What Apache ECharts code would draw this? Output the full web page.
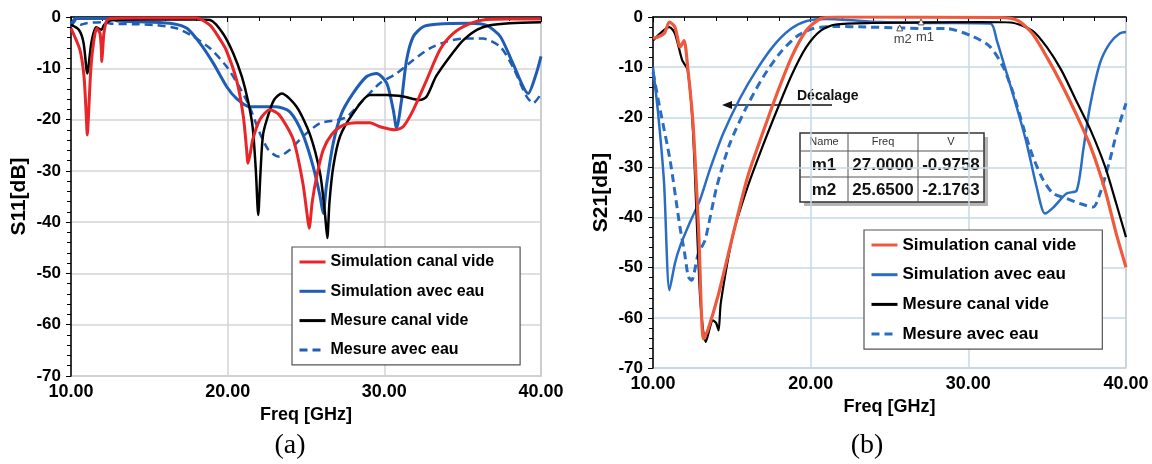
<!DOCTYPE html>
<html>
<head>
<meta charset="utf-8">
<script src="https://cdn.jsdelivr.net/npm/echarts@6/dist/echarts.min.js"></script>
<style>
html, body { margin: 0; padding: 0; background: #fff; }
#chart { width: 1152px; height: 464px; }
</style>
</head>
<body>
<div id="chart"></div>
<script>
// noms des courbes (légende)
var names = ['Simulation canal vide', 'Simulation avec eau', 'Mesure canal vide', 'Mesure avec eau'];

var freqRange = [10, 40];
var dbRange = [-70, 0];

// (a) S11 [freq GHz, dB]
var s11SimVide = [[10,-2.2],[10.57,-6.4],[10.83,-11.6],[10.97,-19],[11.04,-23],[11.12,-19],[11.26,-10.4],[11.43,-5.2],[11.64,-2.2],[11.85,-3.2],[11.93,-6],[11.97,-8.7],[12.03,-6],[12.1,-3.2],[12.28,-0.7],[12.6,-0.3],[14,-0.2],[18.0,-0.2],[18.87,-1.6],[19.5,-4.3],[19.9,-6.4],[20.57,-12.3],[21.0,-19.4],[21.2,-25.5],[21.3,-28.5],[21.45,-26.5],[21.6,-23.9],[22.06,-20],[22.7,-18.1],[23.3,-19.1],[24.2,-24],[24.8,-32.4],[25.05,-38],[25.2,-41.2],[25.4,-36],[25.68,-31.1],[26.1,-25.9],[26.64,-22.9],[27.38,-21.1],[28.23,-20.6],[29.08,-20.6],[29.72,-21.4],[30.68,-22.0],[31.2,-21.4],[31.85,-18.1],[32.7,-12.3],[33.55,-6.4],[34.4,-3.2],[35.46,-1.3],[36.5,-0.5],[38,-0.4],[40,-0.4]];
var s11SimEau = [[10,-1.5],[10.3,-0.3],[12.5,-0.3],[13,-0.8],[15,-1.0],[16.5,-1.3],[17.4,-2.2],[18.23,-5.1],[19.08,-9.0],[19.94,-13.6],[20.57,-15.9],[21.4,-17.5],[23.1,-17.5],[23.97,-18.5],[24.8,-22.9],[25.46,-29.2],[25.9,-35],[26.1,-38.3],[26.3,-33],[26.74,-24.6],[27.27,-18.8],[28.0,-14.9],[28.87,-11.6],[29.5,-11.0],[30.15,-12.9],[30.57,-18.1],[30.78,-21.7],[31.1,-16.2],[31.42,-8.4],[31.85,-3.8],[32.48,-1.9],[33.3,-1.4],[35.46,-1.2],[36.5,-1.6],[37.4,-3.8],[38.2,-9.0],[39.18,-14.9],[39.7,-11],[40,-7.7]];
var s11MesVide = [[10,-1.5],[10.5,-2.5],[10.8,-5],[11.04,-11],[11.3,-5],[11.6,-2.0],[11.95,-2.5],[12.1,-1.6],[12.5,-0.7],[14,-0.5],[18.0,-0.5],[18.87,-0.6],[19.7,-3.2],[20.36,-7.1],[20.9,-11.6],[21.3,-16.4],[21.6,-21.6],[21.8,-30],[21.95,-38.6],[22.1,-30],[22.27,-22.7],[22.7,-18.1],[23.0,-16],[23.45,-14.9],[24.4,-17.5],[25.25,-22.9],[25.9,-30.5],[26.2,-38],[26.36,-43.1],[26.5,-36],[26.74,-29.2],[27.17,-23.3],[28.0,-18.8],[29.08,-15.2],[30.15,-15.2],[31.2,-15.5],[32.27,-16.2],[32.7,-15.5],[33.3,-11.6],[34.19,-7.7],[35.04,-4.5],[35.9,-2.5],[36.74,-1.6],[38.0,-1.2],[40,-1.0]];
var s11MesEau = [[10,-1.9],[10.3,-0.8],[10.6,-1.5],[11,-1.2],[12,-1.0],[12.6,-1.3],[14,-1.4],[15.5,-1.6],[16.74,-2.2],[17.8,-3.8],[18.87,-6.1],[19.94,-9.7],[20.8,-13.9],[21.4,-17.5],[22.06,-22.7],[22.6,-25.9],[23.23,-27.2],[23.97,-25.9],[24.8,-23.3],[25.9,-20.7],[26.96,-20.1],[27.6,-19.5],[28.65,-16.2],[29.72,-12.9],[30.78,-11.0],[31.85,-8.4],[32.9,-6.1],[33.97,-4.8],[35.04,-4.2],[36.3,-4.2],[37.4,-5.8],[38.2,-9.7],[39.08,-15.5],[39.5,-16.8],[40,-15]];

// (b) S21 [freq GHz, dB]
var s21SimVide = [[10,-4.3],[10.7,-3.3],[11.04,-1.0],[11.39,-2.0],[11.73,-6.0],[11.97,-4.7],[12.2,-10],[12.54,-21.3],[12.9,-43],[13.2,-64.2],[13.47,-62.5],[14.16,-55.2],[15.09,-43.2],[16.0,-31.9],[16.94,-23.3],[17.86,-15.3],[18.79,-8.0],[19.72,-2.7],[20.64,-0.3],[21.57,0],[32,-0.1],[33.13,-0.7],[34.06,-3.3],[34.98,-8],[35.9,-13.3],[36.83,-19.3],[37.76,-25.9],[38.68,-34.6],[39.38,-43.2],[40,-49.9]];
var s21SimEau = [[10,-10],[10.35,-20],[10.7,-33],[11.04,-54.5],[11.4,-49],[11.71,-45.8],[12.35,-40.9],[12.98,-36.5],[13.6,-30.5],[14.46,-23.2],[15.52,-16.2],[16.58,-10.5],[17.63,-5.8],[18.69,-2.5],[19.75,-0.8],[21,-0.4],[24.4,-1.0],[28,-1.2],[31.4,-1.3],[31.8,-4.6],[32.43,-11.2],[33.06,-17.9],[33.7,-25.2],[34.33,-33.9],[34.86,-39.2],[35.38,-38],[36.23,-35.2],[36.87,-34.6],[37.29,-26.5],[37.71,-17.9],[38.35,-9.2],[38.98,-5.2],[39.6,-3.3],[40,-3.0]];
var s21MesVide = [[10,-4.7],[11.04,-2.0],[11.39,-3.3],[11.85,-8.6],[12.2,-10.6],[12.54,-23],[13.0,-56.5],[13.35,-64.8],[13.8,-60.5],[14.0,-61],[14.16,-62.5],[14.3,-57],[15.09,-43.2],[16.0,-33.9],[16.94,-25.9],[17.86,-18.6],[18.79,-11.6],[19.72,-6.0],[20.64,-2.7],[21.57,-1.5],[23.88,-1.2],[30.8,-1.0],[32.67,-1.1],[34.06,-2.7],[34.98,-6],[35.9,-10.6],[36.83,-16.6],[37.76,-22.6],[38.68,-29.9],[39.38,-37.2],[40,-43.9]];
var s21MesEau = [[10,-11],[10.46,-18.6],[11.08,-28.5],[11.71,-41.9],[12.0,-47],[12.24,-51.8],[12.45,-52.5],[12.87,-47.2],[13.3,-44.5],[14.04,-33.9],[14.88,-25.2],[15.94,-17.9],[17.0,-11.9],[18.05,-7.2],[19.11,-3.9],[20.16,-2.3],[21.57,-1.9],[23.5,-2.0],[25.65,-2.18],[27.1,-2.3],[28.6,-2.3],[30.3,-3.9],[31.37,-5.9],[32.2,-9.9],[32.85,-15.2],[33.48,-21.9],[34.1,-27.9],[34.75,-32.5],[35.38,-35.2],[36.23,-36.2],[37.07,-37.2],[37.92,-37.9],[38.35,-35.2],[38.98,-28.5],[39.4,-23.2],[40,-17.2]];

// marqueurs m1 / m2
var markerNames = ['m1', 'm2'];
var markerFreqs = [27.0, 25.65];
var markerVals = [-0.9758, -2.1763];

var colorsA = ['#e8262a', '#1f5db5', '#000000', '#1f5db5'];
var colorsB = ['#f05a3c', '#2a6dc5', '#000000', '#2a6dc5'];

var FONT = '"Liberation Sans", Arial, sans-serif';

function mkSerie(name, data, color, width, dashed, gi) {
    return {
        name: name,
        type: 'line',
        xAxisIndex: gi,
        yAxisIndex: gi,
        data: data,
        symbol: 'none',
        smooth: 0.25,
        animation: false,
        lineStyle: { color: color, width: width, type: dashed ? [8, 5] : 'solid' },
        itemStyle: { color: color }
    };
}

function mkX(gi) {
    return {
        type: 'value', gridIndex: gi,
        min: freqRange[0], max: freqRange[1], interval: 10,
        name: 'Freq [GHz]', nameLocation: 'middle', nameGap: 25,
        nameTextStyle: { fontFamily: FONT, fontWeight: 'bold', fontSize: 18, color: '#000' },
        axisLine: { lineStyle: { color: '#000', width: 1.5 } },
        axisTick: { show: true, length: 5, lineStyle: { color: '#000' } },
        minorTick: { show: true, splitNumber: 5, length: 4, lineStyle: { color: '#000' } },
        axisLabel: {
            fontFamily: FONT, fontWeight: 'bold', fontSize: 18, color: '#000', margin: 7,
            formatter: function (v) { return v.toFixed(2); }
        },
        splitLine: { show: true, lineStyle: { color: gi ? '#c6d9e6' : '#d4d4d4', width: 1.5 } }
    };
}

function mkY(gi, name) {
    return {
        type: 'value', gridIndex: gi,
        min: dbRange[0], max: dbRange[1], interval: 10,
        name: name, nameLocation: 'middle', nameGap: 41,
        nameTextStyle: { fontFamily: FONT, fontWeight: 'bold', fontSize: 21, color: '#000' },
        axisLine: { show: true, lineStyle: { color: '#000', width: 1.5 } },
        axisTick: { show: true, length: 5, lineStyle: { color: '#000' } },
        minorTick: { show: true, splitNumber: 5, length: 4, lineStyle: { color: '#000' } },
        axisLabel: { fontFamily: FONT, fontWeight: 'bold', fontSize: 17, color: '#000', margin: 10 },
        splitLine: { show: true, lineStyle: { color: gi ? '#c6d9e6' : '#d4d4d4', width: 1.5 } }
    };
}

function mkLegend(left, top, colors, fontSize, gap) {
    return {
        orient: 'vertical', left: left, top: top,
        itemWidth: 26, itemHeight: 14, itemGap: gap,
        padding: [5, 26, 5, 6],
        borderColor: '#555', borderWidth: 1.2, backgroundColor: '#fff',
        textStyle: { fontFamily: FONT, fontWeight: 'bold', fontSize: fontSize, color: '#000', lineHeight: 20 },
        data: names.map(function (n, i) {
            return {
                name: n,
                itemStyle: { color: colors[i], opacity: 0 },
                lineStyle: { color: colors[i], width: 3, type: i === 3 ? [8, 5] : 'solid' }
            };
        })
    };
}

// tableau des marqueurs (graphic)
function markerTable() {
    var x0 = 800, y0 = 133, cols = [0, 48, 118, 184], rows = [0, 18, 44, 69];
    var w = cols[3], h = rows[3];
    var els = [
        { type: 'rect', shape: { x: x0 + 4, y: y0 + 4, width: w, height: h }, style: { fill: '#b5b5b5' } },
        { type: 'rect', shape: { x: x0, y: y0, width: w, height: h }, style: { fill: '#fff', stroke: '#333', lineWidth: 1.5 } }
    ];
    [1, 2].forEach(function (c) {
        els.push({ type: 'line', shape: { x1: x0 + cols[c], y1: y0, x2: x0 + cols[c], y2: y0 + h }, style: { stroke: '#555', lineWidth: 1 } });
    });
    [1, 2].forEach(function (r) {
        els.push({ type: 'line', shape: { x1: x0, y1: y0 + rows[r], x2: x0 + w, y2: y0 + rows[r] }, style: { stroke: '#555', lineWidth: 1 } });
    });
    var head = ['Name', 'Freq', 'V'];
    head.forEach(function (t, c) {
        els.push({ type: 'text', x: x0 + (cols[c] + cols[c + 1]) / 2, y: y0 + rows[1] / 2,
            style: { text: t, fontFamily: FONT, fontSize: 11, fill: '#333', align: 'center', verticalAlign: 'middle' } });
    });
    markerNames.forEach(function (m, r) {
        var cells = [m, markerFreqs[r].toFixed(4), markerVals[r].toFixed(4)];
        cells.forEach(function (t, c) {
            els.push({ type: 'text', x: x0 + (cols[c] + cols[c + 1]) / 2, y: y0 + (rows[r + 1] + rows[r + 2]) / 2 + 1,
                style: { text: t, fontFamily: FONT, fontWeight: 'bold', fontSize: 17, fill: '#111', align: 'center', verticalAlign: 'middle' } });
        });
    });
    return els;
}

var myChart = echarts.init(document.getElementById('chart'), null, { renderer: 'canvas' });

var seriesA = [s11SimVide, s11SimEau, s11MesVide, s11MesEau];
var seriesB = [s21SimVide, s21SimEau, s21MesVide, s21MesEau];
var widthsA = [3, 3, 2.5, 2.5];
var widthsB = [3.2, 2.5, 2.2, 3];
var order = [3, 1, 2, 0];

var series = [];
order.forEach(function (i) {
    series.push(mkSerie(names[i], seriesA[i], colorsA[i], widthsA[i], i === 3, 0));
});
order.forEach(function (i) {
    series.push(mkSerie(names[i], seriesB[i], colorsB[i], widthsB[i], i === 3, 1));
});

// marqueurs sur les courbes de (b)
series.forEach(function (s) {
    if (s.xAxisIndex !== 1) return;
    var idx = -1;
    if (s.name === names[0]) idx = 0;
    if (s.name === names[3]) idx = 1;
    if (idx < 0) return;
    s.markPoint = {
        symbol: 'triangle', symbolSize: 6,
        itemStyle: { color: '#fff', borderColor: '#555', borderWidth: 1 },
        label: {
            show: true, position: 'bottom', distance: 2,
            formatter: '{b}', fontFamily: FONT, fontSize: 13, color: '#444',
            offset: idx === 0 ? [4, 4] : [3, 0]
        },
        data: [{ name: markerNames[idx], coord: [markerFreqs[idx], markerVals[idx]] }]
    };
});

var option = {
    backgroundColor: '#fff',
    animation: false,
    grid: [
        { left: 71, top: 17, width: 470, height: 359, show: true, borderColor: '#888', borderWidth: 1.2 },
        { left: 653, top: 17, width: 473, height: 351, show: true, borderColor: '#b9a7a0', borderWidth: 1.2 }
    ],
    xAxis: [mkX(0), mkX(1)],
    yAxis: [mkY(0, 'S11[dB]'), mkY(1, 'S21[dB]')],
    legend: [
        mkLegend(292, 247, colorsA, 16, 9.3),
        mkLegend(864, 230, colorsB, 17, 9.7)
    ],
    graphic: [
        { type: 'text', x: 290, y: 446, style: { text: '(a)', fontFamily: '"Liberation Serif", "Times New Roman", serif', fontSize: 28, fill: '#000', align: 'center', verticalAlign: 'middle' } },
        { type: 'text', x: 867, y: 446, style: { text: '(b)', fontFamily: '"Liberation Serif", "Times New Roman", serif', fontSize: 28, fill: '#000', align: 'center', verticalAlign: 'middle' } },
        { type: 'text', x: 797, y: 96, style: { text: 'Décalage', fontFamily: FONT, fontWeight: 'bold', fontSize: 14, fill: '#111', align: 'left', verticalAlign: 'middle' } },
        { type: 'line', shape: { x1: 832, y1: 105, x2: 730, y2: 105 }, style: { stroke: '#111', lineWidth: 1.5 } },
        { type: 'polygon', shape: { points: [[722, 105], [732, 101], [732, 109]] }, style: { fill: '#111' } }
    ].concat(markerTable()),
    series: series
};

myChart.setOption(option);
</script>
</body>
</html>
